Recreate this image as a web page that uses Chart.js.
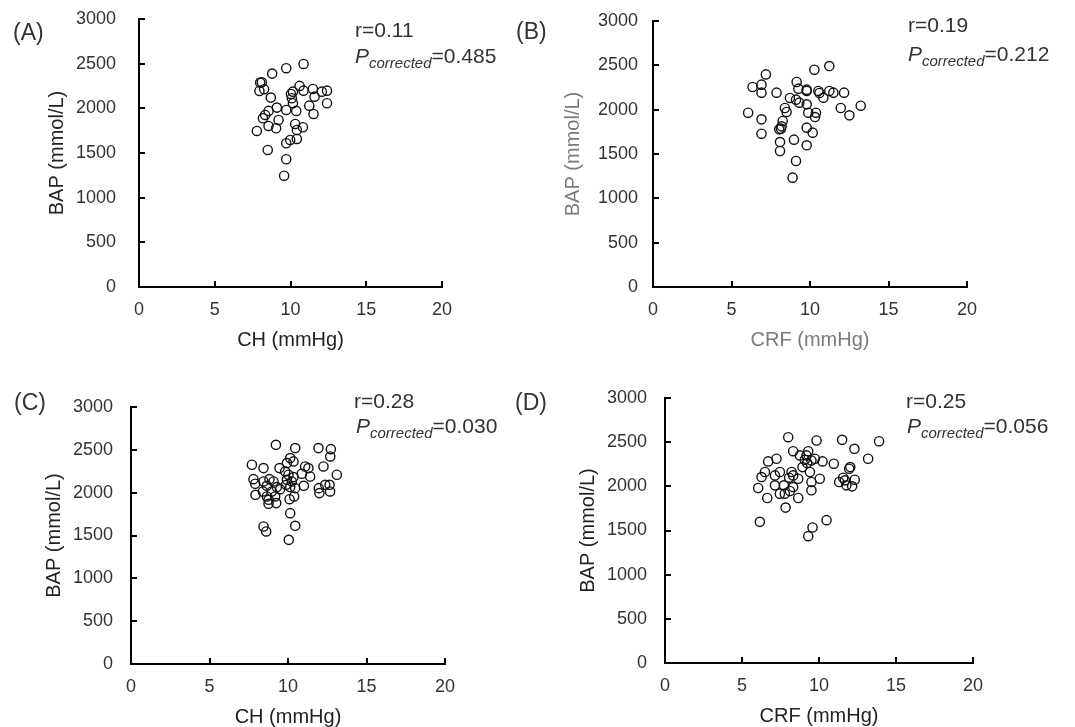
<!DOCTYPE html>
<html>
<head>
<meta charset="utf-8">
<script src="https://cdn.jsdelivr.net/npm/chart.js@4.4.1/dist/chart.umd.min.js"></script>
<style>
  body { margin: 0; background: #fff; width: 1075px; height: 727px; position: relative; overflow: hidden;
         font-family: "Liberation Sans", Arial, sans-serif; color: #333; }
  canvas { position: absolute; }
  .lbl { position: absolute; transform: translateY(-50%); white-space: nowrap; line-height: 1; }
  .tag { font-size: 23px; }
  .stat { font-size: 21px; }
  .stat sub { font-size: 15px; font-style: italic; vertical-align: -5px; }
</style>
</head>
<body>
<canvas id="pA"></canvas>
<canvas id="pB"></canvas>
<canvas id="pC"></canvas>
<canvas id="pD"></canvas>

<div class="lbl tag" style="left:13px;top:32px">(A)</div>
<div class="lbl stat" style="left:355px;top:29px">r=0.11</div>
<div class="lbl stat" style="left:355px;top:57px"><i>P</i><sub>corrected</sub>=0.485</div>

<div class="lbl tag" style="left:516px;top:31px">(B)</div>
<div class="lbl stat" style="left:908px;top:24px">r=0.19</div>
<div class="lbl stat" style="left:908px;top:55px"><i>P</i><sub>corrected</sub>=0.212</div>

<div class="lbl tag" style="left:14px;top:402px">(C)</div>
<div class="lbl stat" style="left:354px;top:400px">r=0.28</div>
<div class="lbl stat" style="left:356px;top:427px"><i>P</i><sub>corrected</sub>=0.030</div>

<div class="lbl tag" style="left:515px;top:402px">(D)</div>
<div class="lbl stat" style="left:906px;top:400px">r=0.25</div>
<div class="lbl stat" style="left:907px;top:427px"><i>P</i><sub>corrected</sub>=0.056</div>

<script>
// (A) CH vs BAP
const chA  = [10.86, 9.72, 8.79, 8.11, 8.0, 7.95, 8.26, 8.70, 10.60, 10.16, 10.03, 10.86, 11.48, 12.07, 12.41, 11.59, 12.41, 10.09, 10.16, 9.10,
              9.72, 10.38, 8.55, 8.33, 8.18, 11.24, 11.52, 9.21, 8.55, 9.05, 10.31, 10.82, 10.42, 7.78, 10.42, 9.98, 9.72, 8.50, 9.72, 9.58];
const bapA = [2497, 2449, 2389, 2292, 2288, 2195, 2214, 2120, 2251, 2187, 2161, 2198, 2217, 2187, 2198, 2131, 2057, 2113, 2057, 2008,
              1982, 1971, 1971, 1926, 1889, 2030, 1937, 1870, 1803, 1777, 1825, 1788, 1758, 1747, 1657, 1646, 1609, 1534, 1430, 1246];

// (B) CRF vs BAP
const crfB = [7.19, 6.34, 6.91, 6.91, 7.87, 6.06, 6.91, 6.91, 9.15, 9.26, 9.79, 9.79, 10.28, 11.23, 10.53, 10.60, 11.23, 11.49, 12.17, 10.85,
              8.72, 9.11, 9.32, 8.40, 8.51, 9.79, 9.89, 10.38, 10.32, 11.96, 12.51, 13.23, 8.26, 8.19, 8.04, 8.15, 9.79, 10.17, 8.09, 8.09,
              8.98, 9.79, 9.11, 8.89];
const bapB = [2398, 2256, 2282, 2192, 2192, 1966, 1891, 1729, 2312, 2237, 2226, 2211, 2451, 2492, 2211, 2188, 2211, 2192, 2192, 2135,
              2132, 2113, 2079, 2019, 1974, 2060, 1966, 1966, 1917, 2019, 1936, 2045, 1872, 1812, 1778, 1786, 1797, 1741, 1635, 1534,
              1662, 1598, 1421, 1233];

// (C) CH vs BAP
const chC  = [9.23, 10.46, 11.94, 12.73, 12.69, 7.70, 8.44, 9.46, 9.93, 10.14, 10.35, 11.09, 11.30, 12.26, 13.11, 11.41, 10.88, 9.82, 10.03, 10.35,
              10.24, 9.93, 7.80, 7.91, 8.44, 8.82, 9.08, 8.65, 9.29, 9.50, 8.40, 8.97, 7.93, 8.65, 9.18, 8.76, 8.76, 9.25, 10.14, 11.01,
              11.96, 12.37, 12.65, 12.00, 12.68, 10.10, 10.39, 10.14, 10.46, 8.44, 8.61, 10.05, 9.88, 10.46];
const bapC = [2559, 2520, 2520, 2508, 2423, 2326, 2287, 2287, 2345, 2404, 2365, 2306, 2287, 2306, 2209, 2189, 2221, 2248, 2209, 2182,
              2131, 2150, 2158, 2104, 2131, 2158, 2131, 2080, 2065, 2041, 2014, 2014, 1975, 1956, 1956, 1917, 1870, 1878, 2065, 2080,
              2053, 2092, 2092, 1995, 2014, 1924, 1956, 1761, 1613, 1605, 1547, 1449, 2092, 2053];

// (D) CRF vs BAP
const crfD = [8.00, 9.84, 11.50, 13.90, 12.30, 13.19, 9.30, 8.32, 8.76, 9.08, 9.23, 8.93, 9.51, 9.73, 10.23, 10.96, 7.24, 6.70, 6.49, 6.27,
              6.05, 6.64, 7.14, 7.46, 7.14, 7.72, 7.46, 7.78, 8.11, 8.22, 8.32, 8.06, 8.65, 8.32, 8.65, 7.83, 9.41, 9.51, 9.51, 10.05,
              11.96, 11.31, 11.68, 11.78, 12.15, 12.32, 12.03, 6.16, 9.58, 9.30, 10.49, 9.19, 11.57];
const bapD = [2556, 2519, 2526, 2511, 2425, 2312, 2398, 2398, 2350, 2301, 2263, 2218, 2293, 2312, 2282, 2256, 2312, 2282, 2162, 2105,
              1981, 1868, 2124, 2162, 2011, 2011, 1917, 1917, 1947, 2162, 2124, 2098, 2086, 1992, 1868, 1759, 2162, 2049, 1955, 2086,
              2199, 2049, 2068, 2011, 2000, 2075, 2218, 1598, 1534, 1436, 1617, 2350, 2098];

const xTicks = [0, 5, 10, 15, 20];
const yTicks = [0, 500, 1000, 1500, 2000, 2500, 3000];

const Y_W = 110, X_H = 70, PAD_T = 20, PAD_R = 24;

// inward tick marks like the original figure
const inTicks = {
  id: 'inTicks',
  afterDraw(chart) {
    const { ctx, chartArea, scales: { x, y } } = chart;
    ctx.save();
    ctx.strokeStyle = '#000';
    ctx.lineWidth = 2;
    ctx.beginPath();
    x.ticks.forEach(t => {
      if (t.value === 0) return;
      const px = Math.round(x.getPixelForValue(t.value));
      ctx.moveTo(px, chartArea.bottom);
      ctx.lineTo(px, chartArea.bottom - 6);
    });
    y.ticks.forEach(t => {
      if (t.value === 0) return;
      const py = Math.round(y.getPixelForValue(t.value));
      ctx.moveTo(chartArea.left, py);
      ctx.lineTo(chartArea.left + 6, py);
    });
    ctx.stroke();
    ctx.restore();
  }
};

function makePanel(id, xs, ys, xTitle, box, labelGap, titleGap, titleColor) {
  const cv = document.getElementById(id);
  const w = box.r - box.l + Y_W + PAD_R;
  const h = box.b - box.t + PAD_T + X_H;
  cv.width = w; cv.height = h;
  cv.style.left = (box.l - Y_W) + 'px';
  cv.style.top = (box.t - PAD_T) + 'px';

  const noPad = s => { s.paddingLeft = s.paddingRight = s.paddingTop = s.paddingBottom = 0; };

  new Chart(cv, {
    type: 'scatter',
    data: {
      datasets: [{
        data: xs.map((v, i) => ({ x: v, y: ys[i] })),
        pointStyle: 'circle',
        pointRadius: 4.6,
        pointBorderWidth: 1.4,
        borderColor: '#111',
        backgroundColor: 'rgba(0,0,0,0)',
        pointHoverRadius: 4.6
      }]
    },
    options: {
      responsive: false,
      animation: false,
      events: [],
      layout: { padding: { left: 0, top: PAD_T, right: PAD_R, bottom: 0 } },
      plugins: { legend: { display: false }, tooltip: { enabled: false } },
      scales: {
        x: {
          type: 'linear', min: 0, max: 20,
          afterBuildTicks: s => { s.ticks = xTicks.map(v => ({ value: v })); },
          afterFit: s => { s.height = X_H; noPad(s); },
          grid: { display: false, drawTicks: false },
          border: { display: true, color: '#000', width: 2 },
          ticks: { padding: 12, color: '#333', callback: v => String(v),
                   font: { family: 'Liberation Sans', size: 18 } },
          title: { display: true, text: xTitle, color: titleColor, padding: { top: 0, bottom: 5 },
                   font: { family: 'Liberation Sans', size: 20 } }
        },
        y: {
          type: 'linear', min: 0, max: 3000,
          afterBuildTicks: s => { s.ticks = yTicks.map(v => ({ value: v })); },
          afterFit: s => { s.width = Y_W; noPad(s); },
          grid: { display: false, drawTicks: false },
          border: { display: true, color: '#000', width: 2 },
          ticks: { padding: labelGap, color: '#333', callback: v => String(v),
                   font: { family: 'Liberation Sans', size: 18 } },
          title: { display: true, text: 'BAP (mmol/L)', color: titleColor, padding: { top: Y_W - titleGap - 12, bottom: 0 },
                   font: { family: 'Liberation Sans', size: 20 } }
        }
      }
    },
    plugins: [inTicks]
  });
}

makePanel('pA', chA, bapA, 'CH (mmHg)',  { l: 139, t: 19,  r: 442, b: 287 }, 23, 82, '#222');
makePanel('pB', crfB, bapB, 'CRF (mmHg)', { l: 653, t: 21,  r: 967, b: 287 }, 15, 80, '#7a7a7a');
makePanel('pC', chC, bapC, 'CH (mmHg)',  { l: 131, t: 407, r: 445, b: 664 }, 18, 77, '#222');
makePanel('pD', crfD, bapD, 'CRF (mmHg)', { l: 665, t: 398, r: 973, b: 663 }, 18, 77, '#222');
</script>
</body>
</html>
